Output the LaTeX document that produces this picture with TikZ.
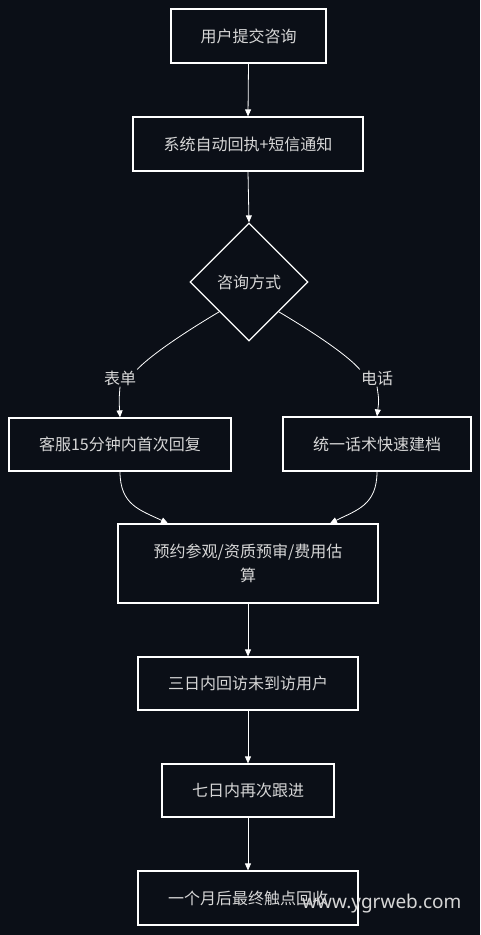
\documentclass[tikz,border=0pt]{standalone}
\usepackage{fontspec}
\setmainfont{Noto Sans CJK SC}
\newfontfamily\wmfont{Noto Sans}
\usetikzlibrary{shapes.geometric,arrows.meta}
\definecolor{bg}{HTML}{0B0F17}
\definecolor{txt}{HTML}{D6D6D6}
\begin{document}
\begin{tikzpicture}[x=1pt,y=-1pt,
  box/.style={draw=white, line width=1.2pt, fill=bg, text=txt, font=\fontsize{16}{24}\selectfont, inner sep=0pt, align=center},
  lbl/.style={text=txt, font=\fontsize{16}{18}\selectfont, inner sep=1pt},
  conn/.style={draw=white, line width=0.8pt},
  arr/.style={conn, -{Triangle[length=7pt,width=6pt]}}]
\fill[bg] (0,0) rectangle (480,935);
\useasboundingbox (0,0) rectangle (480,935);
\node[box, minimum width=155pt, minimum height=54pt] (n1) at (248.5,36) {用户提交咨询};
\node[box, minimum width=230pt, minimum height=54pt] (n2) at (248,144) {系统自动回执+短信通知};
\node[box, diamond, minimum width=118pt, minimum height=118pt] (d) at (249,282) {咨询方式};
\node[box, minimum width=222pt, minimum height=53pt] (n4) at (120,444.5) {客服15分钟内首次回复};
\node[box, minimum width=188pt, minimum height=54pt] (n5) at (377,444) {统一话术快速建档};
\node[box, minimum width=260pt, minimum height=79pt] (n6) at (248,563.5) {预约参观/资质预审/费用估\\算};
\node[box, minimum width=220pt, minimum height=53pt] (n7) at (248,683.5) {三日内回访未到访用户};
\node[box, minimum width=172pt, minimum height=53pt] (n8) at (248,790.5) {七日内再次跟进};
\node[box, minimum width=220pt, minimum height=54pt] (n9) at (248,898) {一个月后最终触点回收};
\node[lbl] (l1) at (120,378) {表单};
\node[lbl] (l2) at (377,378) {电话};
\draw[arr] (n1.south) -- (n2.north);
\draw[arr] (n2.south) -- (d.north);
\draw[conn] (d.south west) .. controls (175,338) and (148,358) .. (l1.north east);
\draw[conn] (d.south east) .. controls (323,338) and (350,358) .. (l2.north west);
\draw[arr] (l1.south) .. controls (119,400) .. (n4.north);
\draw[arr] (l2.south) .. controls (379,400) .. (n5.north);
\draw[arr] (n4.south) .. controls (120,505) and (140,510) .. ([xshift=-80pt]n6.north);
\draw[arr] (n5.south) .. controls (377,505) and (357,510) .. ([xshift=82pt]n6.north);
\draw[arr] (n6.south) -- (n7.north);
\draw[arr] (n7.south) -- (n8.north);
\draw[arr] (n8.south) -- (n9.north);
\node[text=txt, font=\wmfont\fontsize{19}{22}\selectfont, inner sep=0pt, anchor=west] (wm) at (302,904) {www.ygrweb.com};
\end{tikzpicture}
\end{document}
